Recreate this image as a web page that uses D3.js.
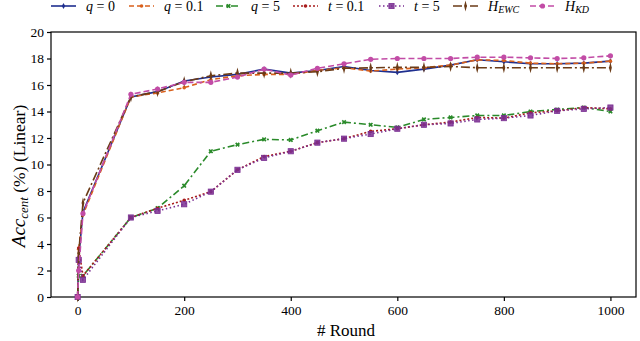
<!DOCTYPE html>
<html><head><meta charset="utf-8">
<script src="https://cdn.jsdelivr.net/npm/d3@7"></script>
<style>body{margin:0;background:#fff}svg{display:block}
text{font-family:"Liberation Serif","Times New Roman",Times,"DejaVu Serif",serif}</style>
</head><body><svg id="c" width="640" height="341"></svg>
<script>
const rounds = [0, 2, 10, 100, 150, 200, 250, 300, 350, 400, 450, 500, 550, 600, 650, 700, 750, 800, 850, 900, 950, 1000];
const q0    = [0, 3.0, 6.4, 15.1, 15.5, 16.3, 16.6, 16.8, 17.2, 16.9, 17.1, 17.4, 17.1, 16.95, 17.2, 17.5, 17.9, 17.75, 17.6, 17.6, 17.65, 17.8];
const q01   = [0, 3.6, 6.2, 15.1, 15.4, 15.8, 16.4, 16.7, 16.8, 16.8, 17.1, 17.3, 17.05, 17.2, 17.3, 17.5, 17.9, 17.85, 17.65, 17.6, 17.65, 17.8];
const q5    = [0, 1.6, 1.6, 6.0, 6.7, 8.4, 11.0, 11.5, 11.9, 11.85, 12.55, 13.2, 13.0, 12.8, 13.4, 13.55, 13.7, 13.7, 14.0, 14.15, 14.3, 14.0];
const t01   = [0, 3.7, 1.6, 6.0, 6.7, 7.3, 7.95, 9.6, 10.6, 11.0, 11.65, 11.95, 12.5, 12.7, 13.0, 13.2, 13.55, 13.5, 13.9, 14.05, 14.3, 14.2];
const t5    = [0, 2.8, 1.3, 6.0, 6.5, 7.0, 7.95, 9.6, 10.5, 11.0, 11.65, 11.95, 12.3, 12.7, 13.0, 13.1, 13.4, 13.5, 13.7, 14.05, 14.2, 14.3];
const hEwc  = [0, 3.3, 7.1, 15.1, 15.5, 16.25, 16.7, 16.9, 16.9, 16.9, 17.0, 17.26, 17.3, 17.33, 17.33, 17.4, 17.3, 17.3, 17.3, 17.3, 17.3, 17.3];
const hKd   = [0, 2.0, 6.3, 15.3, 15.7, 16.2, 16.2, 16.6, 17.2, 16.75, 17.26, 17.6, 17.94, 18.0, 18.0, 18.0, 18.1, 18.1, 18.05, 18.0, 18.05, 18.2];
const xTicks = [0, 200, 400, 600, 800, 1000];
const yTicks = [0, 2, 4, 6, 8, 10, 12, 14, 16, 18, 20];

const series = [
  {name:"q", val:"0", data:q0, color:"#1f2f8f", dash:null, marker:"diamond"},
  {name:"q", val:"0.1", data:q01, color:"#d9601c", dash:"5,3", marker:"circle"},
  {name:"q", val:"5", data:q5, color:"#2a8a2a", dash:"7,3,2,3", marker:"x"},
  {name:"t", val:"0.1", data:t01, color:"#a81c1c", dash:"2,2", marker:"circle"},
  {name:"t", val:"5", data:t5, color:"#7a2e92", dash:"1.5,2.5", marker:"square"},
  {name:"H", sub:"EWC", data:hEwc, color:"#6b3b17", dash:"9,3,2,3", marker:"plus"},
  {name:"H", sub:"KD", data:hKd, color:"#c24ca6", dash:"6,3", marker:"bigcircle"}
];

const svg = d3.select("#c");
const L = 51, R = 636, T = 32, B = 297;
const x = d3.scaleLinear().domain([-50, 1048]).range([L, R]);
const y = d3.scaleLinear().domain([0, 20]).range([B, T]);

const xAxis = svg.append("g").attr("transform", `translate(0,${B})`)
  .call(d3.axisBottom(x).tickValues(xTicks).tickSize(4).tickPadding(4).tickFormat(d3.format("d")));
const yAxis = svg.append("g").attr("transform", `translate(${L},0)`)
  .call(d3.axisLeft(y).tickValues(yTicks).tickSize(4).tickPadding(3).tickFormat(d3.format("d")));
[xAxis, yAxis].forEach(a => {
  a.attr("font-family", null);
  a.select(".domain").remove();
  a.selectAll("line").attr("stroke", "#000").attr("stroke-width", 1.2);
  a.selectAll("text").attr("font-size", 13.5).attr("fill", "#000");
});
svg.append("rect").attr("x", L).attr("y", T).attr("width", R - L).attr("height", B - T)
  .attr("fill", "none").attr("stroke", "#000").attr("stroke-width", 1.2);

const line = d3.line().x((d, i) => x(rounds[i])).y(d => y(d));
const g = svg.append("g");
function marker(sel, type, color, cx, cy, s) {
  s = s || 1;
  if (type === "circle") sel.append("circle").attr("cx", cx).attr("cy", cy).attr("r", 1.8*s).attr("fill", color);
  else if (type === "bigcircle") sel.append("circle").attr("cx", cx).attr("cy", cy).attr("r", 2.6*s).attr("fill", color);
  else if (type === "diamond") sel.append("path").attr("d", d3.symbol(d3.symbolDiamond, 10*s)()).attr("transform", `translate(${cx},${cy})`).attr("fill", color);
  else if (type === "square") sel.append("rect").attr("x", cx-2.6*s).attr("y", cy-2.6*s).attr("width", 5.2*s).attr("height", 5.2*s).attr("fill", color).attr("fill-opacity", 0.85).attr("stroke", color).attr("stroke-width", 0.8);
  else if (type === "x") sel.append("path").attr("d", d3.symbol(d3.symbolCross, 14*s)()).attr("transform", `translate(${cx},${cy}) rotate(45)`).attr("fill", color);
  else if (type === "plus") sel.append("path").attr("d", d3.symbol(d3.symbolDiamond, 14*s)()).attr("transform", `translate(${cx},${cy}) scale(0.7,1.6)`).attr("fill", color);
}
series.forEach(s => {
  g.append("path").datum(s.data).attr("d", line).attr("fill", "none")
    .attr("stroke", s.color).attr("stroke-width", 1.6)
    .attr("stroke-dasharray", s.dash);
  const mg = g.append("g");
  s.data.forEach((v, i) => marker(mg, s.marker, s.color, x(rounds[i]), y(v)));
});

const lx = [51, 129, 216, 293, 379, 453, 530];
const lg = svg.append("g");
series.forEach((s, i) => {
  const gx = lx[i], gy = 6;
  lg.append("line").attr("x1", gx).attr("x2", gx + 25).attr("y1", gy).attr("y2", gy)
    .attr("stroke", s.color).attr("stroke-width", 1.6).attr("stroke-dasharray", s.dash);
  marker(lg, s.marker, s.color, gx + 12.5, gy, 1);
  const t = lg.append("text").attr("x", gx + 35).attr("y", 11)
    .attr("font-size", 14).attr("fill", "#000");
  if (s.sub) {
    t.append("tspan").attr("font-style", "italic").text(s.name);
    t.append("tspan").attr("font-style", "italic").attr("font-size", 10).attr("dy", 2).text(s.sub);
  } else {
    t.append("tspan").attr("font-style", "italic").text(s.name);
    t.append("tspan").text(" = " + s.val);
  }
});

svg.append("text").attr("x", 346).attr("y", 336).attr("text-anchor", "middle")
  .attr("font-size", 17).text("# Round");
const yl = svg.append("text").attr("transform", `translate(25,176) rotate(-90)`)
  .attr("text-anchor", "middle").attr("font-size", 17.5);
yl.append("tspan").attr("font-style", "italic").attr("font-size", 19).text("Acc");
yl.append("tspan").attr("font-style", "italic").attr("font-size", 13).attr("dy", 3).text("cent");
yl.append("tspan").attr("dy", -3).text(" (%) (Linear)");
</script></body></html>
